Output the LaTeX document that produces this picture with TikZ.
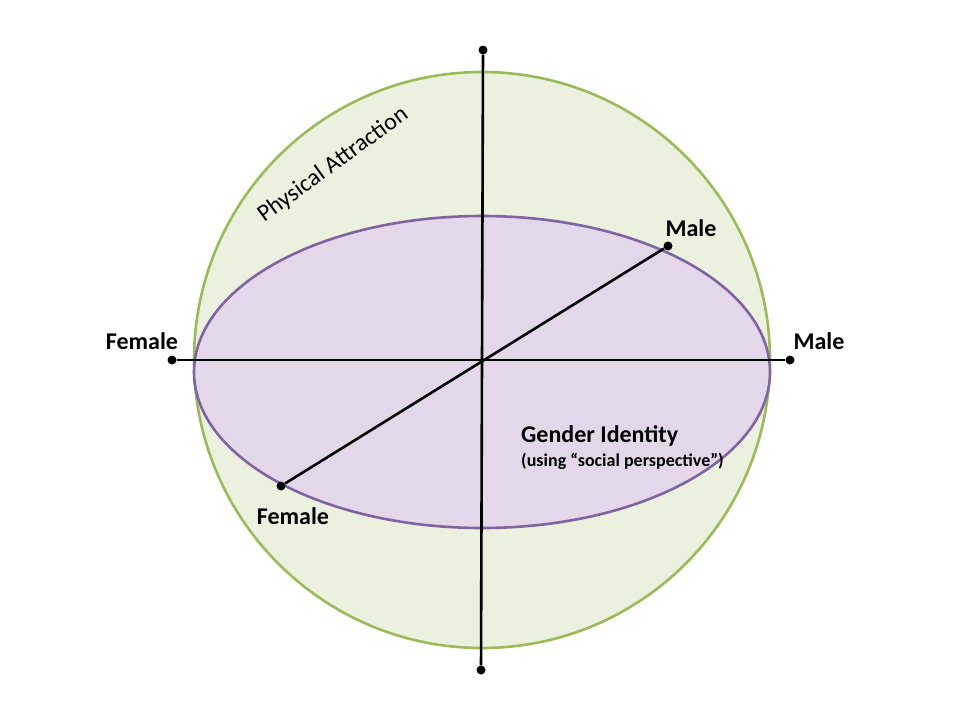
\documentclass[tikz,border=0pt]{standalone}
\usepackage{fontspec}
\setmainfont{Carlito}
\usepackage{xcolor}
\usetikzlibrary{positioning}
\definecolor{attrfill}{HTML}{EBF1DE}
\definecolor{attrline}{HTML}{9BBB59}
\definecolor{idfill}{HTML}{E4D7EA}
\definecolor{idline}{HTML}{8064A2}
\tikzset{dot/.style={circle,fill=black,minimum size=9pt,inner sep=0pt},
         axis/.style={line width=2.6pt},
         pole/.style={font=\bfseries\fontsize{24}{28}\selectfont,inner sep=0pt},
            }

\begin{document}
\begin{tikzpicture}[x=1pt,y=-1pt]
    \useasboundingbox (0,0) rectangle (960,720);

    % spheres
    \draw[attrline,fill=attrfill,line width=2.6pt] (482,360) circle[radius=288pt];
    \draw[idline,fill=idfill,line width=2.6pt] (482,372) ellipse[x radius=288pt,y radius=156pt];

    \coordinate (o) at (482,360);
    \node[dot] (top) at (483,50) {};
    \node[dot] (bot) at (481,670) {};
    \node[dot] (fl) at (172,360) {};
    \node[dot] (mr) at (790,360) {};
    \node[dot] (md) at (668,246) {};
    \node[dot] (fd) at (281,486) {};

    \draw[axis] (top) -- (bot);
    \draw[axis] (fl) -- (mr);
    \draw[axis] (fd) -- (md);

    \node[pole] at (142,341) {Female};
    \node[pole] at (819,341) {Male};
    \node[pole] at (691,228) {Male};
    \node[pole] at (293,516) {Female};

    \node[rotate=36,inner sep=0pt,font=\fontsize{24}{28}\selectfont] at (333,165) {Physical Attraction};
    \node[pole,anchor=west] (gi) at (521,436) {Gender Identity};
    \node[anchor=north west,inner sep=0pt,font=\bfseries\fontsize{18}{21}\selectfont] at ([yshift=-6pt]gi.south west) {(using “social perspective”)};

\end{tikzpicture}
\end{document}
